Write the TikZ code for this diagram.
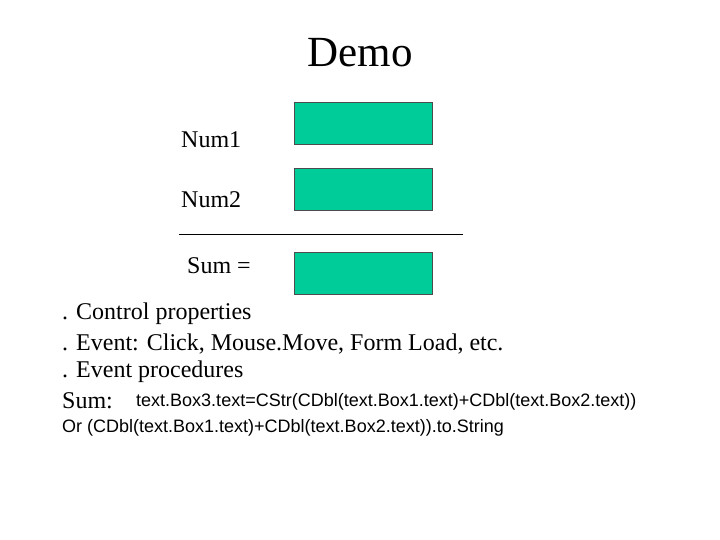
\documentclass[tikz,border=0pt]{standalone}
\usepackage{fontspec}
\setmainfont{Liberation Serif}
\newfontfamily\arialfont{Liberation Sans}
\usetikzlibrary{positioning}
\definecolor{boxgreen}{HTML}{00CC99}
\tikzset{
  field/.style={draw=black!70,fill=boxgreen,minimum width=138pt,minimum height=42pt,inner sep=0pt},
  lbl/.style={anchor=west,inner sep=0pt,font=\fontsize{24}{28}\selectfont},
  code/.style={anchor=west,inner sep=0pt,font=\arialfont\fontsize{18}{22}\selectfont}
}
\begin{document}
\begin{tikzpicture}[x=1pt,y=-1pt]
\useasboundingbox (0,0) rectangle (720,540);
\node[inner sep=0pt,font=\fontsize{43}{50}\selectfont] (title) at (360,53) {Demo};
% input fields
\node[lbl] (num1) at (181,140) {Num1};
\node[field] (box1) at (363,123) {};
\node[lbl] (num2) at (181,200) {Num2};
\node[field] (box2) at (363,189) {};
\coordinate (rule_l) at (179,234);
\coordinate (rule_r) at (463,234);
\draw[thin] (rule_l) -- (rule_r);
\node[lbl] (sum) at (187,266) {Sum =};
\node[field] (box3) at (363,273) {};
% notes
\node[lbl] (ctrl) at (62,314) {. Control properties};
\node[lbl] (event) at (62,344) {. Event: Click, Mouse.Move, Form Load, etc.};
\node[lbl] (proc) at (62,372) {. Event procedures};
\node[lbl] (sumlbl) at (62,401) {Sum:};
\node[code] (line1) at (136,402) {text.Box3.text=CStr(CDbl(text.Box1.text)+CDbl(text.Box2.text))};
\node[code] (line2) at (62,428) {Or (CDbl(text.Box1.text)+CDbl(text.Box2.text)).to.String};
\end{tikzpicture}
\end{document}
